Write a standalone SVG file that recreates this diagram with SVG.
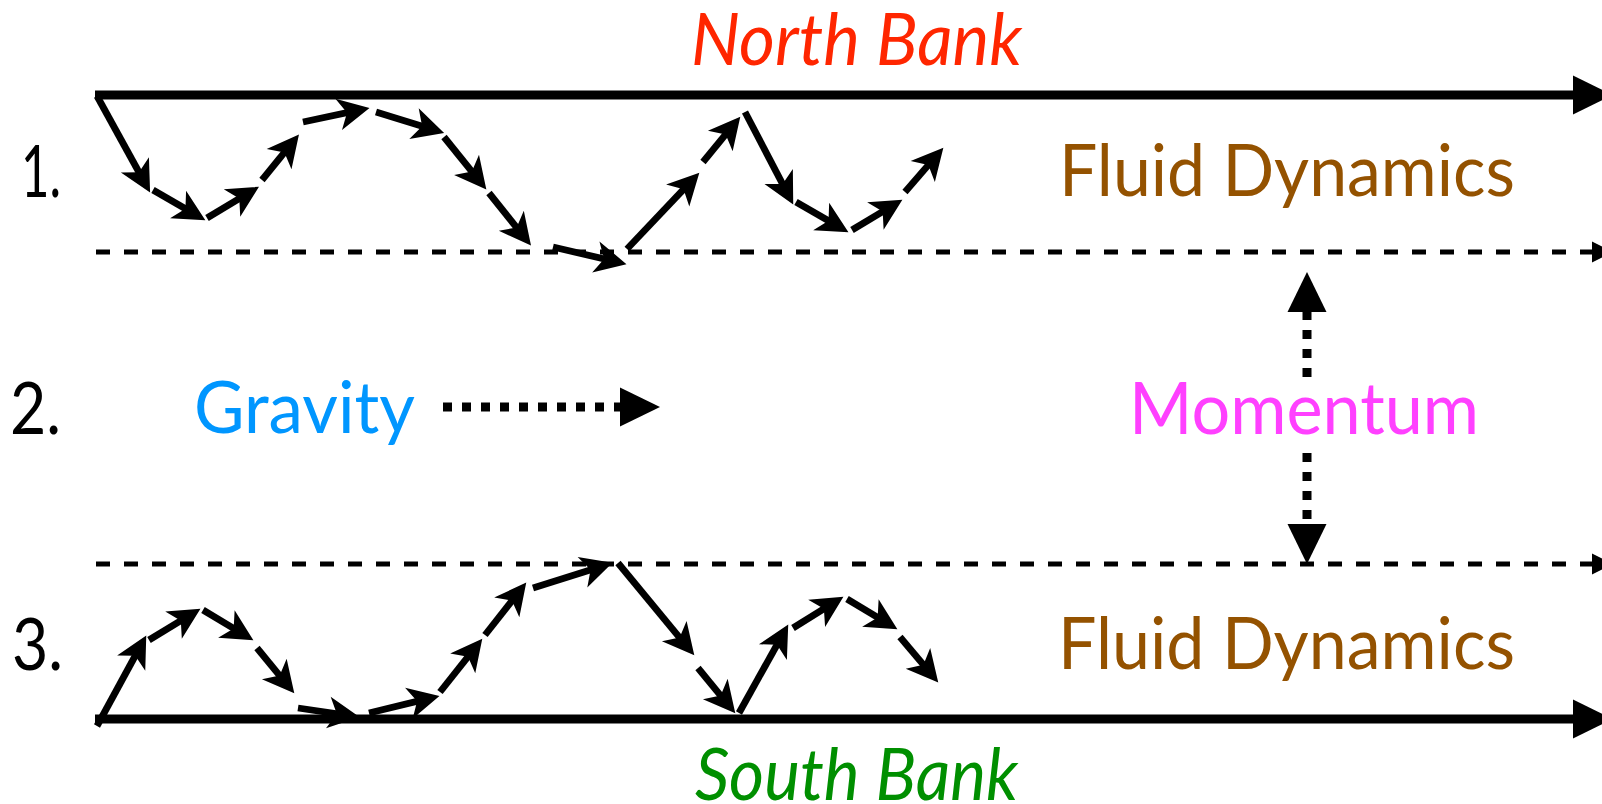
<svg xmlns="http://www.w3.org/2000/svg" width="1602" height="804" viewBox="0 0 1602 804">
<defs>
<style>
.lbl{font-family:Lato,"Open Sans","Liberation Sans",sans-serif;font-size:72px}
.it{font-style:italic}
.num{fill:#000}
.fluid{fill:#945200}
.wave{stroke:#000;stroke-width:6.8;fill:none;marker-end:url(#ah)}
.bank{stroke:#000;stroke-width:9;fill:none;marker-end:url(#big)}
.dash{stroke:#000;stroke-width:5;fill:none;stroke-dasharray:14 14;marker-end:url(#small)}
.dot{stroke:#000;stroke-width:9;fill:none;stroke-dasharray:9 10;marker-end:url(#big)}
</style>
<marker id="ah" markerUnits="userSpaceOnUse" viewBox="0 -17 34 34" markerWidth="34" markerHeight="34" refX="23" refY="0" orient="auto" overflow="visible">
<path d="M31.5,0 L0,-16 L8.5,0 L0,16 Z" fill="#000"/>
</marker>
<marker id="big" markerUnits="userSpaceOnUse" viewBox="0 -20 41 40" markerWidth="41" markerHeight="40" refX="0" refY="0" orient="auto" overflow="visible">
<path d="M0,-19.5 L40,0 L0,19.5 Z" fill="#000"/>
</marker>
<marker id="small" markerUnits="userSpaceOnUse" viewBox="0 -11 22 22" markerWidth="22" markerHeight="22" refX="0" refY="0" orient="auto" overflow="visible">
<path d="M0,-10.5 L21,0 L0,10.5 Z" fill="#000"/>
</marker>
</defs>
<rect width="1602" height="804" fill="#fff"/>

<g id="north-bank"><text class="lbl it" x="691" y="65" fill="#FF2600" textLength="331" lengthAdjust="spacingAndGlyphs">North Bank</text></g>
<g id="south-bank"><text class="lbl it" x="695" y="800" fill="#008F00" textLength="323" lengthAdjust="spacingAndGlyphs">South Bank</text></g>
<g id="label-1"><text class="lbl num" x="21" y="197" textLength="40" lengthAdjust="spacingAndGlyphs">1.</text></g>
<g id="label-2"><text class="lbl num" x="10" y="434" textLength="51" lengthAdjust="spacingAndGlyphs">2.</text></g>
<g id="label-3"><text class="lbl num" x="12" y="670" textLength="51" lengthAdjust="spacingAndGlyphs">3.</text></g>
<g id="fluid-1"><text class="lbl fluid" x="1059" y="196" textLength="456" lengthAdjust="spacingAndGlyphs">Fluid Dynamics</text></g>
<g id="fluid-3"><text class="lbl fluid" x="1058" y="669" textLength="457" lengthAdjust="spacingAndGlyphs">Fluid Dynamics</text></g>
<g id="gravity"><text class="lbl" x="194" y="433" fill="#0096FF" textLength="221" lengthAdjust="spacingAndGlyphs">Gravity</text></g>
<g id="momentum"><text class="lbl" x="1129" y="434" fill="#FF40FF" textLength="350" lengthAdjust="spacingAndGlyphs">Momentum</text></g>

<g id="connectors">
<line class="bank" x1="95" y1="95" x2="1573" y2="95"/>
<line class="bank" x1="95" y1="719" x2="1573" y2="719"/>
<line class="dash" x1="96" y1="252" x2="1592" y2="252"/>
<line class="dash" x1="96" y1="564" x2="1592" y2="564"/>
<line class="dot" x1="443" y1="407" x2="620" y2="407"/>
<line class="dot" x1="1307" y1="377" x2="1307" y2="312"/>
<line class="dot" x1="1307" y1="453" x2="1307" y2="524"/>

<g id="wave-1">
<line class="wave" x1="97" y1="96" x2="146" y2="185"/>
<line class="wave" x1="153" y1="190" x2="198" y2="216"/>
<line class="wave" x1="207" y1="218" x2="251.7" y2="191.1"/>
<line class="wave" x1="262" y1="180" x2="293.6" y2="141.2"/>
<line class="wave" x1="303" y1="122" x2="361.2" y2="109.7"/>
<line class="wave" x1="376" y1="112" x2="436" y2="130.4"/>
<line class="wave" x1="444" y1="137" x2="481" y2="182.8"/>
<line class="wave" x1="489" y1="193" x2="525.7" y2="238.8"/>
<line class="wave" x1="553" y1="247" x2="618.2" y2="262.2"/>
<line class="wave" x1="627" y1="249" x2="693.5" y2="178.8"/>
<line class="wave" x1="703" y1="162" x2="734.9" y2="123.2"/>
<line class="wave" x1="745" y1="112" x2="789.3" y2="196.9"/>
<line class="wave" x1="796" y1="202" x2="841.1" y2="228"/>
<line class="wave" x1="852" y1="230" x2="895.1" y2="204.1"/>
<line class="wave" x1="905" y1="192" x2="937.8" y2="154.1"/>
</g>

<g id="wave-3">
<line class="wave" x1="97" y1="726" x2="142.2" y2="643"/>
<line class="wave" x1="149" y1="640" x2="193.2" y2="613.2"/>
<line class="wave" x1="203" y1="610" x2="246.1" y2="635.9"/>
<line class="wave" x1="257" y1="648" x2="288.9" y2="686.8"/>
<line class="wave" x1="298" y1="708" x2="351.1" y2="715.8"/>
<line class="wave" x1="369" y1="713" x2="431.2" y2="697.9"/>
<line class="wave" x1="440" y1="692" x2="477" y2="645.3"/>
<line class="wave" x1="485" y1="635" x2="521" y2="589.3"/>
<line class="wave" x1="533" y1="588" x2="604.4" y2="565.4"/>
<line class="wave" x1="618" y1="563" x2="688.9" y2="648.8"/>
<line class="wave" x1="698" y1="668" x2="729.9" y2="706.8"/>
<line class="wave" x1="739" y1="713" x2="784.1" y2="632"/>
<line class="wave" x1="793" y1="628" x2="836.2" y2="601.2"/>
<line class="wave" x1="847" y1="599" x2="890.1" y2="624.9"/>
<line class="wave" x1="900" y1="637" x2="932.8" y2="675.9"/>
</g>
</g>
</svg>
